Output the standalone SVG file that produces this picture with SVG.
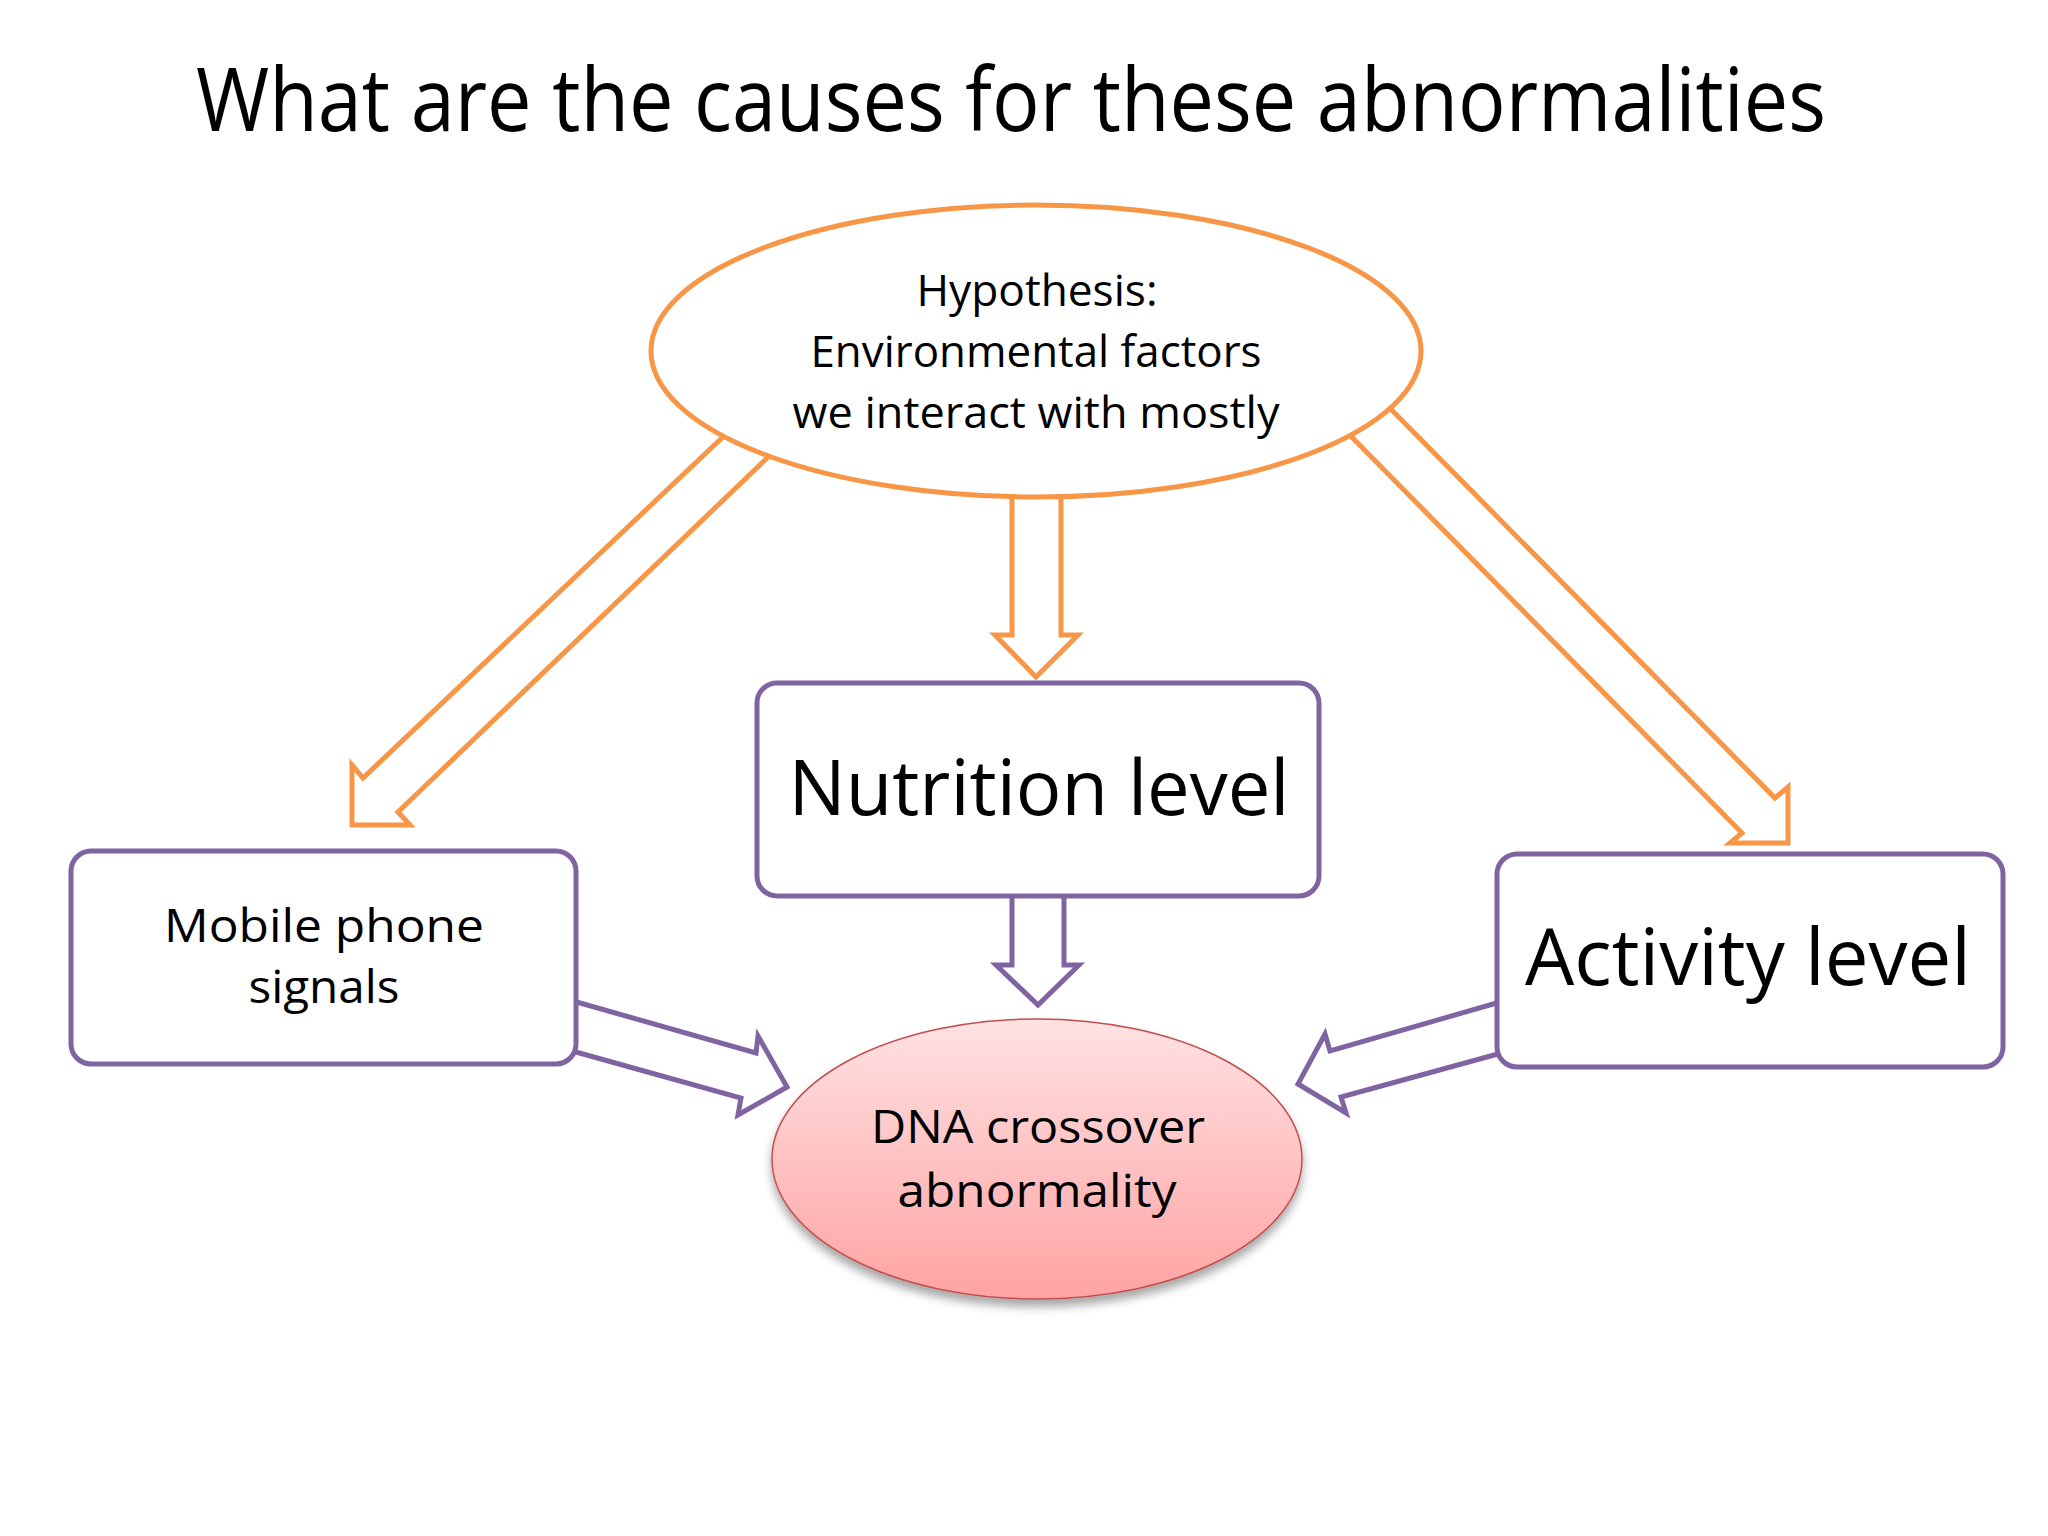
<svg xmlns="http://www.w3.org/2000/svg" width="2048" height="1536" viewBox="0 0 2048 1536">
<defs>
<style>
.t{font-family:"Open Sans","Liberation Sans",sans-serif;fill:#000;text-anchor:middle}
.box{fill:#fff;stroke:#8064A2;stroke-width:5}
.oa{fill:#fff;stroke:#F79646;stroke-width:5;stroke-linejoin:miter}
.pa{fill:#fff;stroke:#8064A2;stroke-width:5;stroke-linejoin:miter}
</style>
<linearGradient id="pink" x1="0" y1="0" x2="0" y2="1">
<stop offset="0" stop-color="#FFE2E3"/>
<stop offset="1" stop-color="#FFA3A3"/>
</linearGradient>
<filter id="sh" x="-10%" y="-10%" width="120%" height="130%">
<feDropShadow dx="0" dy="7" stdDeviation="5" flood-color="#000" flood-opacity="0.35"/>
</filter>
</defs>
<rect width="2048" height="1536" fill="#fff"/>
<text class="t" x="1011" y="131" font-size="88" textLength="1630" lengthAdjust="spacingAndGlyphs">What are the causes for these abnormalities</text>
<g id="connectors">
<polygon class="oa" points="745,416 363,778 352,765 352,825 410,825 398,812 790,436"/>
<polygon class="oa" points="1369,387 1775,798 1788,787 1788,843 1730,843 1742,833 1331,416"/>
<polygon class="oa" points="1012,480 1012,635 995,635 1036,677 1078,635 1061,635 1061,480"/>
<polygon class="pa" points="1012,885 1012,965 996,965 1038,1005 1079,965 1064,965 1064,885"/>
<polygon class="pa" points="559,997 756,1053 758,1036 787,1087 738,1115 741,1098 558,1047"/>
<polygon class="pa" points="1514,998 1330,1051 1325,1034 1298,1084 1346,1113 1341,1097 1516,1049"/>
</g>
<g id="hypothesis">
<ellipse cx="1036" cy="351" rx="385" ry="146" fill="#fff" stroke="#F79646" stroke-width="5"/>
<text class="t" x="1037" y="306" font-size="43" textLength="241" lengthAdjust="spacingAndGlyphs">Hypothesis:</text>
<text class="t" x="1036" y="367" font-size="43" textLength="451" lengthAdjust="spacingAndGlyphs">Environmental factors</text>
<text class="t" x="1036" y="428" font-size="43" textLength="487" lengthAdjust="spacingAndGlyphs">we interact with mostly</text>
</g>
<g id="nutrition">
<rect class="box" x="757" y="683" width="562" height="213" rx="20"/>
<text class="t" x="1039" y="815" font-size="77" textLength="501" lengthAdjust="spacingAndGlyphs">Nutrition level</text>
</g>
<g id="mobile">
<rect class="box" x="71" y="851" width="505" height="213" rx="20"/>
<text class="t" x="324" y="942" font-size="45" textLength="320" lengthAdjust="spacingAndGlyphs">Mobile phone</text>
<text class="t" x="324" y="1003" font-size="45" textLength="151" lengthAdjust="spacingAndGlyphs">signals</text>
</g>
<g id="activity">
<rect class="box" x="1497" y="854" width="506" height="213" rx="20"/>
<text class="t" x="1748" y="985" font-size="78" textLength="446" lengthAdjust="spacingAndGlyphs">Activity level</text>
</g>
<g id="dna">
<ellipse cx="1037" cy="1159" rx="265" ry="140" fill="url(#pink)" stroke="#C0504D" stroke-width="1.5" filter="url(#sh)"/>
<text class="t" x="1038" y="1143" font-size="46" textLength="334" lengthAdjust="spacingAndGlyphs">DNA crossover</text>
<text class="t" x="1037" y="1207" font-size="46" textLength="279" lengthAdjust="spacingAndGlyphs">abnormality</text>
</g>
</svg>
